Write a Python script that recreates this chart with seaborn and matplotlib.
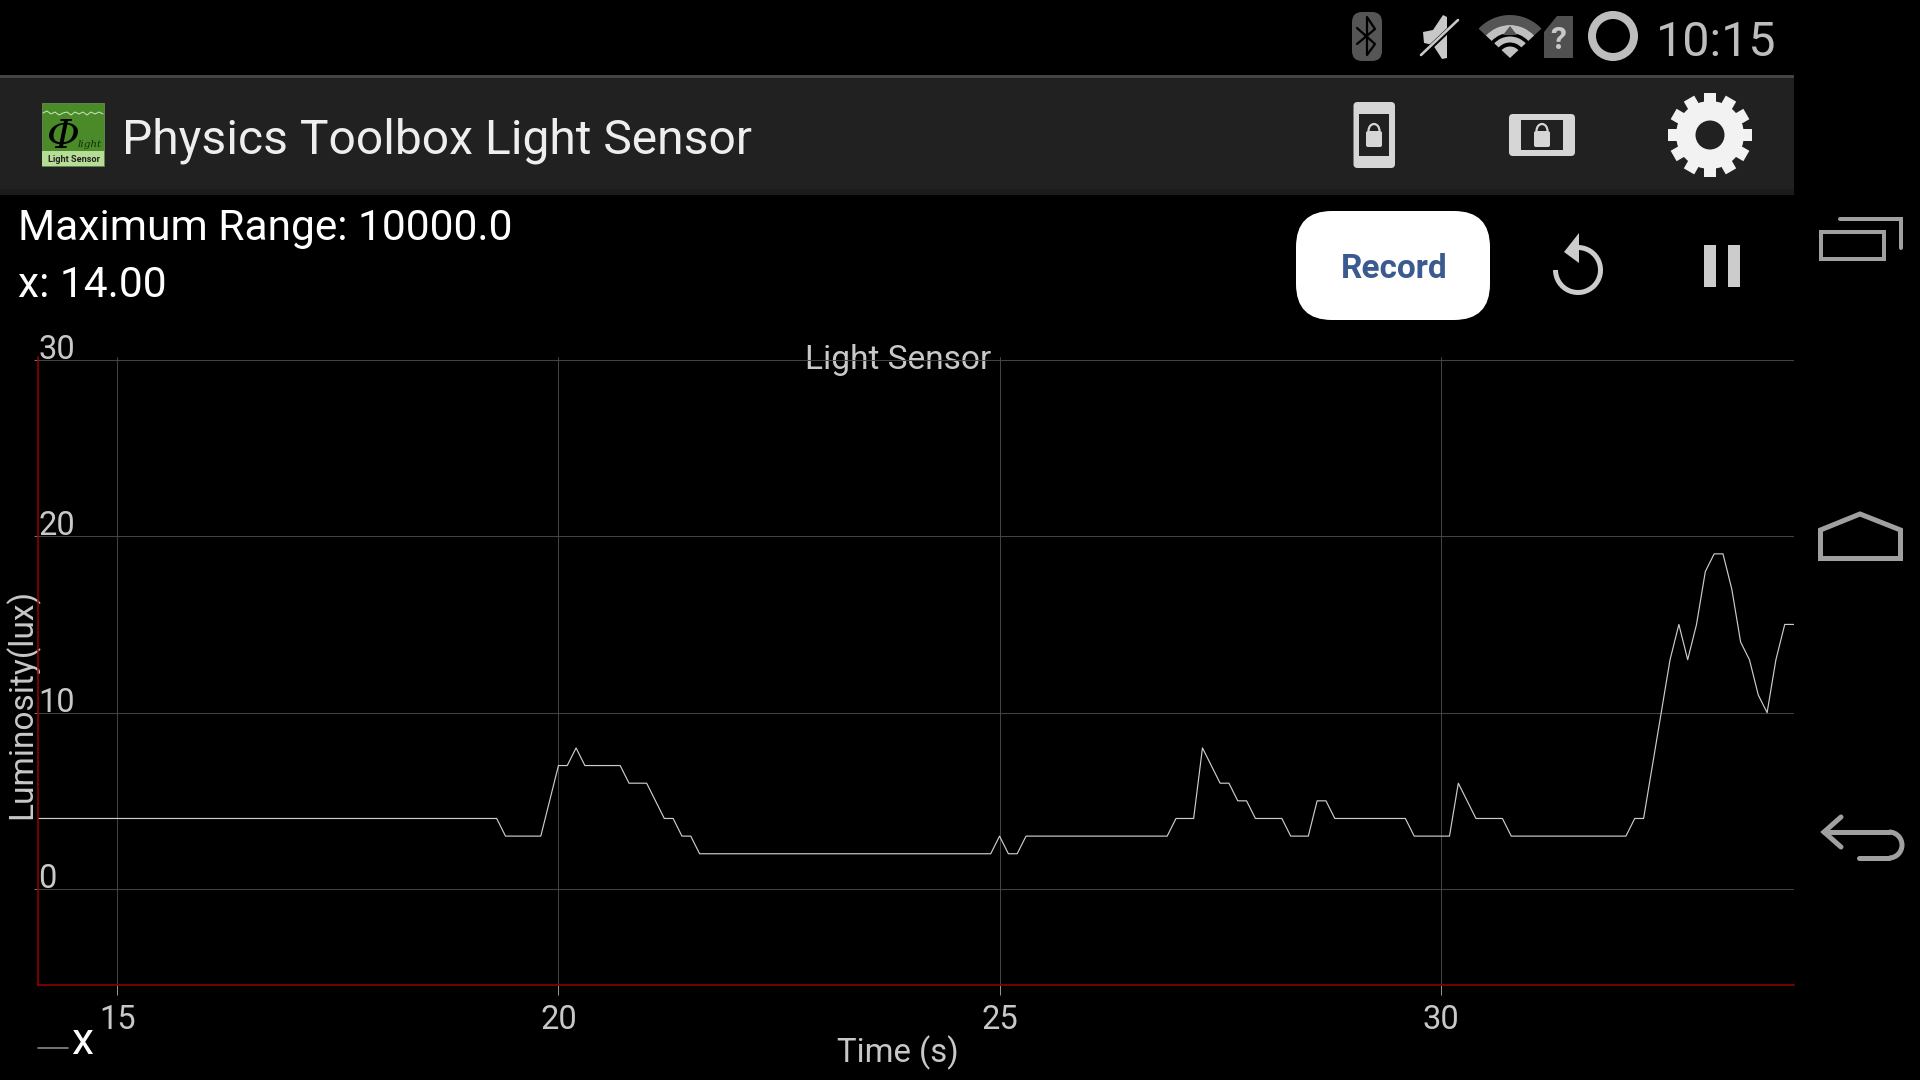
import numpy as np
import pandas as pd
import seaborn as sns
import matplotlib.pyplot as plt
from matplotlib.patches import Rectangle, FancyBboxPatch, Polygon, Circle, Wedge, Arc
from matplotlib.transforms import Affine2D, ScaledTranslation

# chart values (corners of the trace only)
time_s = [14.0, 19.3, 19.4, 19.8, 20.0, 20.1, 20.2, 20.3, 20.7, 20.8, 21.0, 21.2, 21.3, 21.4, 21.5, 21.6,
          24.9, 25.0, 25.1, 25.2, 25.3, 26.9, 27.0, 27.2, 27.3, 27.5, 27.6, 27.7, 27.8, 27.9, 28.2, 28.3,
          28.5, 28.6, 28.7, 28.8, 29.6, 29.7, 30.1, 30.2, 30.4, 30.7, 30.8, 32.1, 32.2, 32.3, 32.6, 32.7,
          32.8, 32.9, 33.0, 33.1, 33.2, 33.3, 33.4, 33.5, 33.6, 33.7, 33.8, 33.9, 34.0]
lux = [4, 4, 3, 3, 7, 7, 8, 7, 7, 6, 6, 4, 4, 3, 3, 2,
       2, 3, 2, 2, 3, 3, 4, 4, 8, 6, 6, 5, 5, 4, 4, 3,
       3, 5, 5, 4, 4, 3, 3, 6, 4, 4, 3, 3, 4, 4, 13, 15,
       13, 15, 18, 19, 19, 17, 14, 13, 11, 10, 13, 15, 15]
x_ticks = [15, 20, 25, 30]
y_ticks = [0, 10, 20, 30]

PX = 0.72  # one pixel in points at dpi 100
BAR = "#212121"
GRID = "#464646"
LABEL = "#c8c8c8"
NAV = "#a0a0a0"

sns.set_theme(style="darkgrid", rc={"figure.facecolor": "black", "axes.facecolor": "black"})
plt.rcParams["font.family"] = ["Roboto", "DejaVu Sans"]

fig = plt.figure(figsize=(19.2, 10.8), dpi=100, facecolor="black")

# =====================================================
# app chrome, drawn in pixel coordinates
# =====================================================
ui = fig.add_axes([0, 0, 1, 1], zorder=0)
ui.set_xlim(0, 1920)
ui.set_ylim(1080, 0)
ui.axis("off")

ui.add_patch(Rectangle((0, 75), 1794, 120, fc=BAR, ec="none"))
ui.add_patch(Rectangle((0, 75), 1794, 3, fc="#444444", ec="none"))
ui.add_patch(Rectangle((0, 189), 1794, 6, fc="#1b1b1b", ec="none"))

# logo
ui.add_patch(Rectangle((42, 103), 62, 63, fc="#4a8a28", ec="#6a8a5a", lw=0.6))
ui.add_patch(Rectangle((42, 151), 62, 15, fc="#b5dd96", ec="none"))
ui.plot([43, 47, 51, 55, 59, 63, 67, 71, 75, 79, 83, 87, 91, 95, 99, 103],
        [113, 111, 114, 112, 115, 113, 112, 115, 112, 114, 112, 115, 112, 114, 112, 114],
        color="#cfe8b8", lw=0.7)
ui.text(63, 148, "\u03a6", family="DejaVu Serif", style="italic", fontsize=29, color="black", ha="center", va="baseline")
ui.text(78, 147, "light", family="DejaVu Serif", style="italic", fontsize=7.5, color="#10300a", va="baseline")
ui.text(74, 162, "Light Sensor", fontsize=6.6, weight="bold", color="#222222", ha="center", va="baseline")

ui.text(122, 153, "Physics Toolbox Light Sensor", fontsize=34.6, color="#eeeeee", va="baseline")
ui.text(18, 240, "Maximum Range: 10000.0", fontsize=30.6, color="white", va="baseline")
ui.text(18, 297, "x: 14.00", fontsize=30.6, color="white", va="baseline")
ui.text(898, 368.5, "Light Sensor", fontsize=24.1, color=LABEL, ha="center", va="baseline", zorder=5)


def lock(cx, cy, col):
    ui.add_patch(FancyBboxPatch((cx - 8, cy - 5), 16, 16, boxstyle="round,pad=0,rounding_size=2", fc=col, ec="none"))
    ui.add_patch(Arc((cx, cy - 5), 11, 14, theta1=180, theta2=360, ec=col, lw=2.2 * PX))


# orientation locks
ui.add_patch(FancyBboxPatch((1353.5, 102), 41.5, 66, boxstyle="round,pad=0,rounding_size=4", fc="#d6d6d6", ec="none"))
ui.add_patch(Rectangle((1359, 114), 30, 42, fc=BAR, ec="none"))
lock(1374, 136, "#d6d6d6")
ui.add_patch(FancyBboxPatch((1509, 114), 66, 42, boxstyle="round,pad=0,rounding_size=4", fc="#d6d6d6", ec="none"))
ui.add_patch(Rectangle((1521, 120), 42, 30, fc=BAR, ec="none"))
lock(1542, 136, "#d6d6d6")

# settings gear
ui.add_patch(Circle((1710, 135), 34, fc="#f2f2f2", ec="none"))
for ang in np.arange(0, 360, 30):
    ui.add_patch(Rectangle((1710 - 6, 135 - 42), 12, 14, fc="#f2f2f2", ec="none",
                           transform=Affine2D().rotate_deg_around(1710, 135, ang) + ui.transData))
ui.add_patch(Circle((1710, 135), 14.5, fc=BAR, ec="none"))

# record, reset, pause
ui.add_patch(FancyBboxPatch((1296, 211), 194, 109, boxstyle="round,pad=0,rounding_size=36", fc="white", ec="none"))
ui.text(1394.5, 277.5, "Record", fontsize=24, weight="bold", color="#3b5a8f", ha="center", va="baseline")
ui.add_patch(Arc((1578, 270), 45, 45, theta1=-90, theta2=180, ec="#cccccc", lw=5 * PX))
ui.add_patch(Polygon([(1579, 233), (1579, 263), (1564, 252)], fc="#cccccc", ec="none"))
ui.add_patch(Rectangle((1704, 245), 11.5, 42, fc="#cccccc", ec="none"))
ui.add_patch(Rectangle((1728, 245), 12, 42, fc="#cccccc", ec="none"))

# navigation bar
ui.add_patch(Rectangle((1821, 232), 63, 27, fc="none", ec=NAV, lw=4 * PX))
ui.plot([1840, 1901, 1901], [219, 219, 248], color=NAV, lw=4 * PX, solid_joinstyle="miter")
ui.add_patch(Polygon([(1820.5, 558.5), (1820.5, 530), (1860, 514), (1900.5, 530), (1900.5, 558.5)],
                     fc="none", ec=NAV, lw=5 * PX))
ui.plot([1841, 1824, 1841], [817, 832, 847], color=NAV, lw=5 * PX, solid_joinstyle="miter")
ui.plot([1824, 1889], [832, 832], color=NAV, lw=5 * PX)
ui.add_patch(Arc((1889, 845), 26, 26, theta1=-90, theta2=90, ec=NAV, lw=5 * PX))
ui.plot([1889, 1859], [858, 858], color=NAV, lw=5 * PX)

# status bar
ui.add_patch(FancyBboxPatch((1352, 12), 30, 49, boxstyle="round,pad=0,rounding_size=10", fc="#555555", ec="none"))
ui.plot([1357, 1375, 1367, 1367, 1375, 1357], [28, 44, 55, 17, 29, 44], color="black", lw=1.6)
ui.add_patch(Polygon([(1423, 32), (1433, 30), (1443, 15), (1447, 17), (1447, 58), (1442, 59), (1433, 45), (1424, 43)],
                     fc="#c8c8c8", ec="none"))
ui.plot([1419, 1458], [58, 21], color="black", lw=5 * PX)
ui.plot([1421, 1458], [55, 20], color="#c8c8c8", lw=2.6 * PX)
ui.add_patch(Wedge((1510, 58), 43, -137, -43, width=10, fc="#555555", ec="none"))
ui.add_patch(Wedge((1510, 58), 33, -137, -43, width=8, fc="#c0c0c0", ec="none"))
ui.add_patch(Polygon([(1510, 26), (1503, 35), (1517, 35)], fc="#555555", ec="none"))
ui.add_patch(Wedge((1510, 58), 21.5, -137, -43, width=6, fc="#c0c0c0", ec="none"))
ui.add_patch(Wedge((1510, 58), 11.5, -137, -43, fc="#c0c0c0", ec="none"))
ui.add_patch(Polygon([(1544, 32), (1557, 16), (1573, 16), (1573, 58), (1544, 58)], fc="#505050", ec="none"))
ui.text(1558, 49, "?", fontsize=23, weight="bold", color="#c8c8c8", ha="center", va="baseline")
ui.add_patch(Circle((1613, 36), 21, fc="none", ec="#bdbdbd", lw=8 * PX))
ui.text(1656, 55.5, "10:15", fontsize=34.8, color="#bdbdbd", va="baseline")

# =====================================================
# sensor chart
# =====================================================
df = pd.DataFrame({"time": time_s, "lux": lux})

ax = fig.add_axes([38 / 1920, 1 - 985 / 1080, 1756 / 1920, 628 / 1080], zorder=1)
ax.patch.set_visible(False)
sns.lineplot(data=df, x="time", y="lux", color="#cccccc", linewidth=0.85, label="x", ax=ax)

ax.set_xlim(14.101, 34.005)
ax.set_ylim(-5.44, 30.16)
ax.set_xticks(x_ticks)
ax.set_yticks(y_ticks)
ax.grid(True, color=GRID, linewidth=0.7)
ax.tick_params(axis="x", bottom=True, length=10 * PX, width=0.7, color="#999999", pad=9 * PX,
               labelsize=23.5, labelcolor=LABEL)
ax.tick_params(axis="y", left=True, length=4 * PX, width=0.7, color="#777777", pad=-4.5 * PX,
               labelsize=23.5, labelcolor=LABEL)
lift = ScaledTranslation(0, 1 / 100, fig.dpi_scale_trans)
for lab in ax.get_yticklabels():
    lab.set_ha("left")
    lab.set_va("baseline")
    lab.set_transform(lab.get_transform() + lift)

for side in ["top", "right"]:
    ax.spines[side].set_visible(False)
for side in ["left", "bottom"]:
    ax.spines[side].set_color("#9c0000")
    ax.spines[side].set_linewidth(1.5 * PX)

ax.set_xlabel("Time (s)", fontsize=23.7, color=LABEL, va="baseline")
ax.xaxis.set_label_coords((897.5 - 38) / 1756, -(1062 - 985) / 628)
ax.set_ylabel("Luminosity(lux)", fontsize=24.1, color=LABEL, va="baseline")
ax.yaxis.set_label_coords(-6 / 1756, (985 - 704) / 628)

leg = ax.legend(loc="lower left", bbox_to_anchor=(0, -(1063 - 985) / 628), frameon=False, fontsize=32,
                handlelength=0.68, handletextpad=0.06, borderpad=0, borderaxespad=0)
leg.get_texts()[0].set_color("white")
handle = leg.get_lines()[0]
handle.set_color("#999999")
handle.set_linewidth(1.5 * PX)
handle.set_ydata(np.asarray(handle.get_ydata()) - 7)

fig.savefig("out.png", dpi=100, facecolor="black")
